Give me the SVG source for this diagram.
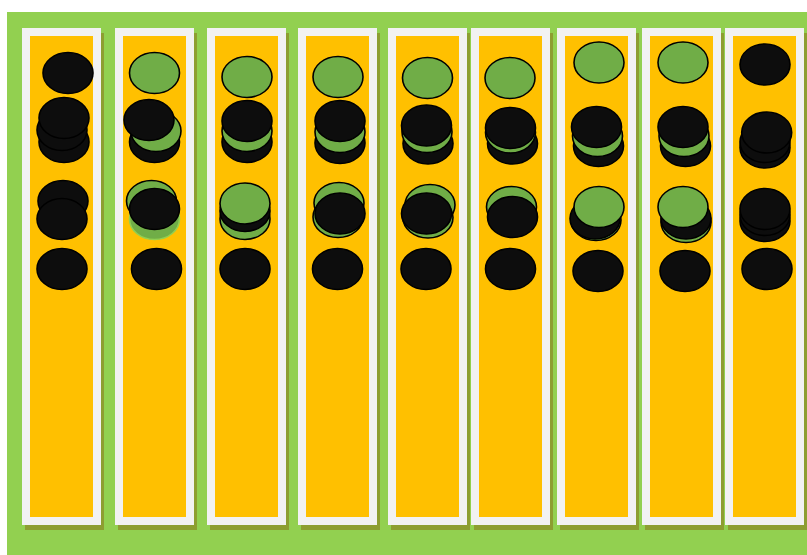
<svg xmlns="http://www.w3.org/2000/svg" width="807" height="555" viewBox="0 0 807 555">
<style>
.sh{fill:#8D9E31}
.fr{fill:#F2F2F2}
.in{fill:#FFC000}
.b{fill:#0D0D0D;stroke:#000;stroke-width:1.6}
.g{fill:#70AD47;stroke:#000;stroke-width:1.6}
.gl{fill:#70AD47;stroke:#92D050;stroke-width:1.6}
</style>
<defs>
<g id="col">
<rect class="sh" x="3" y="5" width="79" height="497"/>
<rect class="fr" x="0" y="0" width="79" height="497"/>
<rect class="in" x="8" y="8" width="63" height="481"/>
</g>
</defs>
<rect x="0" y="0" width="807" height="555" fill="#FFFFFF"/>
<rect x="7" y="12" width="800" height="543" fill="#92D050"/>
<g id="column1">
<use href="#col" x="22" y="28"/>
<ellipse class="b" cx="68" cy="73" rx="25" ry="20.5"/>
<ellipse class="b" cx="64" cy="142" rx="25" ry="20.5"/>
<ellipse class="b" cx="62" cy="130" rx="25" ry="20.5"/>
<ellipse class="b" cx="64" cy="118" rx="25" ry="20.5"/>
<ellipse class="b" cx="63" cy="201" rx="25" ry="20.5"/>
<ellipse class="b" cx="62" cy="219" rx="25" ry="20.5"/>
<ellipse class="b" cx="62" cy="269" rx="25" ry="20.5"/>
</g>
<g id="column2">
<use href="#col" x="115" y="28"/>
<ellipse class="g" cx="154.5" cy="73" rx="25" ry="20.5"/>
<ellipse class="b" cx="154.5" cy="142" rx="25" ry="20.5"/>
<ellipse class="g" cx="156" cy="131" rx="25" ry="20.5"/>
<ellipse class="b" cx="149" cy="120" rx="25" ry="20.5"/>
<ellipse class="g" cx="151.5" cy="201" rx="25" ry="20.5"/>
<ellipse class="gl" cx="154.5" cy="219" rx="25" ry="20.5"/>
<ellipse class="b" cx="154.5" cy="209" rx="25" ry="20.5"/>
<ellipse class="b" cx="156.5" cy="269" rx="25" ry="20.5"/>
</g>
<g id="column3">
<use href="#col" x="207" y="28"/>
<ellipse class="g" cx="247" cy="77" rx="25" ry="20.5"/>
<ellipse class="b" cx="247" cy="142" rx="25" ry="20.5"/>
<ellipse class="g" cx="247" cy="131" rx="25" ry="20.5"/>
<ellipse class="b" cx="247" cy="121" rx="25" ry="20.5"/>
<ellipse class="g" cx="245" cy="219" rx="25" ry="20.5"/>
<ellipse class="b" cx="245" cy="211" rx="25" ry="20.5"/>
<ellipse class="g" cx="245" cy="203.5" rx="25" ry="20.5"/>
<ellipse class="b" cx="245" cy="269" rx="25" ry="20.5"/>
</g>
<g id="column4">
<use href="#col" x="298" y="28"/>
<ellipse class="g" cx="338" cy="77" rx="25" ry="20.5"/>
<ellipse class="b" cx="340" cy="143" rx="25" ry="20.5"/>
<ellipse class="g" cx="340" cy="132" rx="25" ry="20.5"/>
<ellipse class="b" cx="340" cy="121" rx="25" ry="20.5"/>
<ellipse class="g" cx="339" cy="203" rx="25" ry="20.5"/>
<ellipse class="g" cx="338" cy="217" rx="25" ry="20.5"/>
<ellipse class="b" cx="340" cy="213.5" rx="25" ry="20.5"/>
<ellipse class="b" cx="337.5" cy="269" rx="25" ry="20.5"/>
</g>
<g id="column5">
<use href="#col" x="388" y="28"/>
<ellipse class="g" cx="427.5" cy="78" rx="25" ry="20.5"/>
<ellipse class="b" cx="428" cy="143.5" rx="25" ry="20.5"/>
<ellipse class="g" cx="427" cy="132" rx="25" ry="20.5"/>
<ellipse class="b" cx="426.5" cy="125.5" rx="25" ry="20.5"/>
<ellipse class="g" cx="430" cy="205" rx="25" ry="20.5"/>
<ellipse class="g" cx="428" cy="217.5" rx="25" ry="20.5"/>
<ellipse class="b" cx="426.5" cy="213.5" rx="25" ry="20.5"/>
<ellipse class="b" cx="426" cy="269" rx="25" ry="20.5"/>
</g>
<g id="column6">
<use href="#col" x="471" y="28"/>
<ellipse class="g" cx="510" cy="78" rx="25" ry="20.5"/>
<ellipse class="b" cx="512.5" cy="143.5" rx="25" ry="20.5"/>
<ellipse class="g" cx="510.5" cy="132.5" rx="25" ry="20.5"/>
<ellipse class="b" cx="510.5" cy="128" rx="25" ry="20.5"/>
<ellipse class="g" cx="511.5" cy="207" rx="25" ry="20.5"/>
<ellipse class="b" cx="512.5" cy="217" rx="25" ry="20.5"/>
<ellipse class="b" cx="510.5" cy="269" rx="25" ry="20.5"/>
</g>
<g id="column7">
<use href="#col" x="557" y="28"/>
<ellipse class="g" cx="599" cy="62.5" rx="25" ry="20.5"/>
<ellipse class="b" cx="598.5" cy="146" rx="25" ry="20.5"/>
<ellipse class="g" cx="597.5" cy="136" rx="25" ry="20.5"/>
<ellipse class="b" cx="596.5" cy="127" rx="25" ry="20.5"/>
<ellipse class="g" cx="596" cy="220" rx="25" ry="20.5"/>
<ellipse class="b" cx="595" cy="218.5" rx="25" ry="20.5"/>
<ellipse class="g" cx="599" cy="207" rx="25" ry="20.5"/>
<ellipse class="b" cx="598" cy="271" rx="25" ry="20.5"/>
</g>
<g id="column8">
<use href="#col" x="642" y="28"/>
<ellipse class="g" cx="683" cy="62.5" rx="25" ry="20.5"/>
<ellipse class="b" cx="685.5" cy="146" rx="25" ry="20.5"/>
<ellipse class="g" cx="684" cy="136" rx="25" ry="20.5"/>
<ellipse class="b" cx="683" cy="127" rx="25" ry="20.5"/>
<ellipse class="g" cx="686" cy="222" rx="25" ry="20.5"/>
<ellipse class="b" cx="686" cy="218.5" rx="25" ry="20.5"/>
<ellipse class="g" cx="683" cy="207" rx="25" ry="20.5"/>
<ellipse class="b" cx="685" cy="271" rx="25" ry="20.5"/>
</g>
<g id="column9">
<use href="#col" x="725" y="28"/>
<ellipse class="b" cx="765" cy="64.5" rx="25" ry="20.5"/>
<ellipse class="b" cx="765" cy="147.5" rx="25" ry="20.5"/>
<ellipse class="b" cx="765" cy="142" rx="25" ry="20.5"/>
<ellipse class="b" cx="766.7" cy="132.5" rx="25" ry="20.5"/>
<ellipse class="b" cx="765" cy="221" rx="25" ry="20.5"/>
<ellipse class="b" cx="765" cy="215" rx="25" ry="20.5"/>
<ellipse class="b" cx="765" cy="209" rx="25" ry="20.5"/>
<ellipse class="b" cx="767" cy="269" rx="25" ry="20.5"/>
</g>
<g id="connectors"/>
</svg>
